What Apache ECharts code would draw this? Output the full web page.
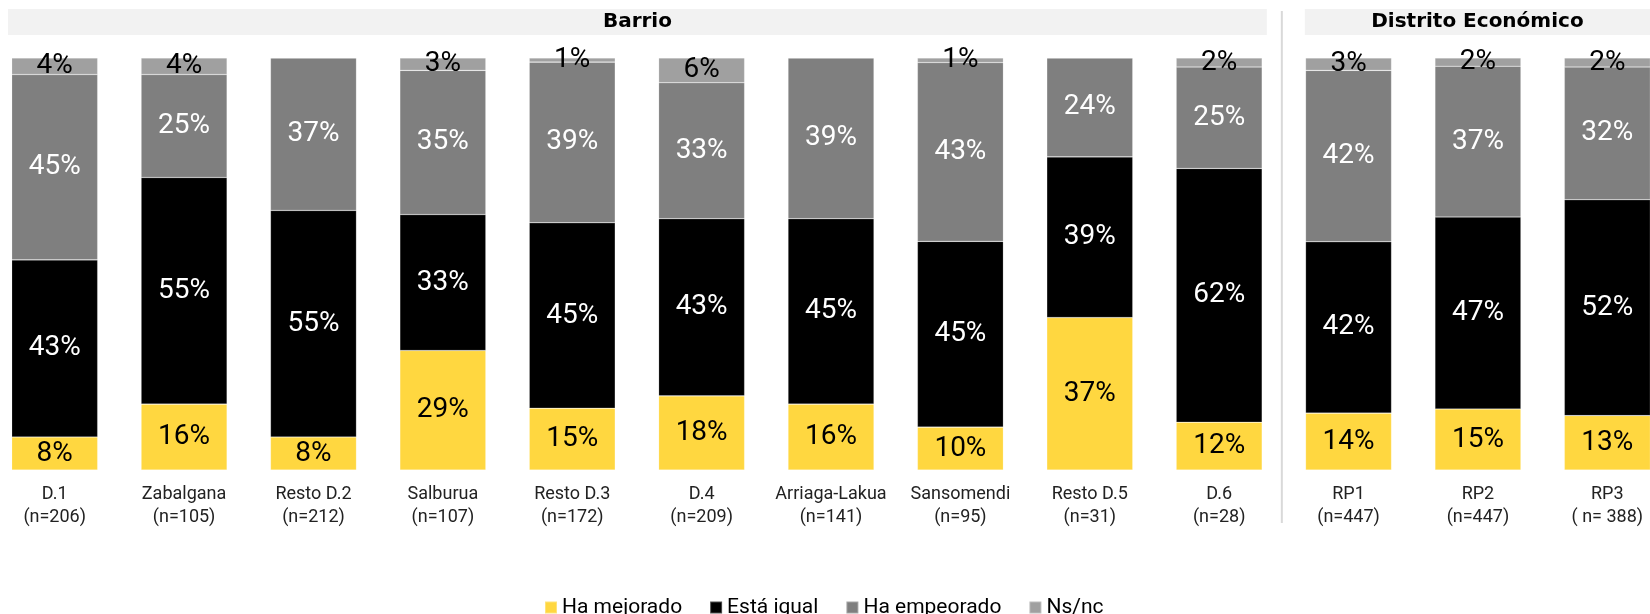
<!DOCTYPE html>
<html>
<head>
<meta charset="utf-8">
<script src="https://cdn.jsdelivr.net/npm/echarts@6/dist/echarts.min.js"></script>
<style>
  html, body { margin: 0; padding: 0; background: #fff; }
  #chart { width: 1650px; height: 614px; }
</style>
</head>
<body>
<div id="chart"></div>
<script>
const categories = ["D.1", "Zabalgana", "Resto D.2", "Salburua", "Resto D.3", "D.4", "Arriaga-Lakua", "Sansomendi", "Resto D.5", "D.6", "RP1", "RP2", "RP3"];
const sampleSizes = ["(n=206)", "(n=105)", "(n=212)", "(n=107)", "(n=172)", "(n=209)", "(n=141)", "(n=95)", "(n=31)", "(n=28)", "(n=447)", "(n=447)", "( n= 388)"];
const mejorado = [8, 16, 8, 29, 15, 18, 16, 10.4, 37, 11.6, 13.8, 14.8, 13.2];
const igual = [43, 55, 55, 33, 45, 43, 45, 45.1, 39, 61.6, 41.6, 46.6, 52.4];
const empeorado = [45, 25, 37, 35, 39, 33, 39, 43.4, 24, 24.6, 41.6, 36.6, 32.2];
const nsnc = [4, 4, 0, 3, 1, 6, 0, 1.1, 0, 2.2, 3, 2, 2.2];
const groupTitles = ["Barrio", "Distrito Económico"];
const barrioCount = 10;

const font = "Roboto";
const chart = echarts.init(document.getElementById("chart"));

const pct = (p) => (p.value > 0 ? Math.round(p.value) + "%" : "");

function seriesOf(name, data, color, labelColor) {
  return {
    name: name,
    type: "bar",
    stack: "total",
    data: data,
    barWidth: 86,
    itemStyle: { color: color, borderColor: "rgba(255,255,255,0.3)", borderWidth: 0.6 },
    label: {
      show: true,
      position: "inside",
      formatter: pct,
      color: labelColor,
      fontFamily: font,
      fontSize: 28,
    },
  };
}

const option = {
  animation: false,
  grid: { left: -10, right: -22, top: 58, bottom: 144, containLabel: false, outerBoundsMode: "none" },
  legend: {
    left: 539,
    top: 592,
    itemWidth: 12,
    itemHeight: 12,
    itemGap: 27,
    icon: "rect",
    textStyle: { fontFamily: font, fontSize: 21, color: "#000" },
  },
  xAxis: {
    type: "category",
    data: categories.map((c, i) => c + "\n" + sampleSizes[i]),
    axisLine: { show: false },
    axisTick: { show: false },
    axisLabel: { margin: 13, fontFamily: font, fontSize: 18, lineHeight: 23, color: "#222", interval: 0 },
  },
  yAxis: { type: "value", min: 0, max: 100, show: false, splitLine: { show: false } },
  series: [
    seriesOf("Ha mejorado", mejorado, "#FFD740", "#000"),
    seriesOf("Está igual", igual, "#000000", "#fff"),
    seriesOf("Ha empeorado", empeorado, "#7F7F7F", "#fff"),
    seriesOf("Ns/nc", nsnc, "#A0A0A0", "#000"),
  ],
};

chart.setOption(option);

// header bands and separator, placed from the category axis
const x0 = chart.convertToPixel({ xAxisIndex: 0 }, 0);
const xLast = chart.convertToPixel({ xAxisIndex: 0 }, categories.length - 1);
const pitch = (xLast - x0) / (categories.length - 1);
const split = x0 + pitch * (barrioCount - 0.5);
const bandY = 9, bandH = 26;
const barrioL = x0 - pitch / 2 + 18;
const barrioR = split - 17;
const distL = split + 21;
const distR = 1650;
const titleFont = "bold 20px 'DejaVu Sans'";

chart.setOption({
  graphic: [
    { type: "rect", silent: true, z: -1, shape: { x: barrioL, y: bandY, width: barrioR - barrioL, height: bandH }, style: { fill: "#f2f2f2" } },
    { type: "rect", silent: true, z: -1, shape: { x: distL, y: bandY, width: distR - distL, height: bandH }, style: { fill: "#f2f2f2" } },
    { type: "text", silent: true, x: (barrioL + barrioR) / 2, y: bandY + bandH / 2, style: { text: groupTitles[0], fill: "#000", font: titleFont, align: "center", verticalAlign: "middle" } },
    { type: "text", silent: true, x: (distL + distR) / 2, y: bandY + bandH / 2, style: { text: groupTitles[1], fill: "#000", font: titleFont, align: "center", verticalAlign: "middle" } },
    { type: "line", silent: true, shape: { x1: split - 2, y1: 11, x2: split - 2, y2: 523 }, style: { stroke: "#d9d9d9", lineWidth: 2 } },
  ],
});
</script>
</body>
</html>
